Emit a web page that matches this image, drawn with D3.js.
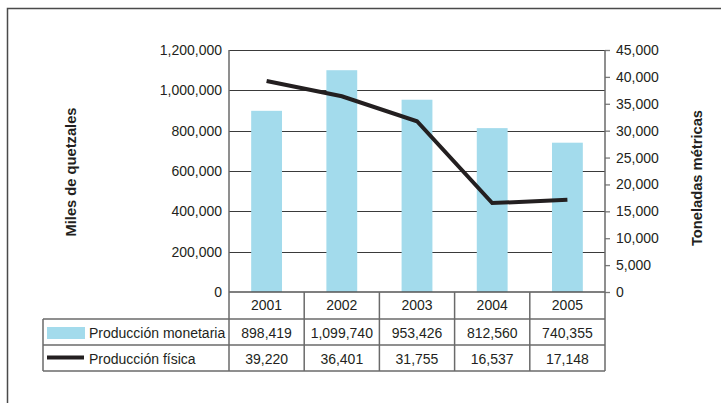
<!DOCTYPE html>
<html><head><meta charset="utf-8">
<script src="https://cdn.jsdelivr.net/npm/d3@7"></script>
<style>
html,body{margin:0;padding:0;background:#fff;}
svg{display:block;font-family:"Liberation Sans",Arial,sans-serif;}
</style></head>
<body>
<svg id="chart" width="721" height="403"></svg>
<script>
const years = ["2001", "2002", "2003", "2004", "2005"];
const monetaria = [898419, 1099740, 953426, 812560, 740355];
const fisica = [39220, 36401, 31755, 16537, 17148];
const leftTicks = [0, 200000, 400000, 600000, 800000, 1000000, 1200000];
const rightTicks = [0, 5000, 10000, 15000, 20000, 25000, 30000, 35000, 40000, 45000];
const seriesNames = ["Producción monetaria", "Producción física"];
const leftTitle = "Miles de quetzales";
const rightTitle = "Toneladas métricas";

const barColor = "#a3dbec";
const lineColor = "#231f20";
const textColor = "#231f20";
const gridColor = "#3a3a3a";
const axisGray = "#7a7a7a";

const svg = d3.select("#chart");
const fmt = d3.format(",");

const L = 229, R = 605, T = 50, B = 292;
const rowB = [292, 319, 345, 371];
const tableLeft = 43;

// outer frame
svg.append("rect").attr("x", 7.5).attr("y", 8.5).attr("width", 800).attr("height", 500)
  .attr("fill", "none").attr("stroke", "#4a4a4a").attr("stroke-width", 1.5);

const x = d3.scaleBand().domain(years).range([L, R]).padding(0);
const bw = x.bandwidth();
const yL = d3.scaleLinear().domain([0, 1200000]).range([B, T]);
const yR = d3.scaleLinear().domain([0, 45000]).range([B, T]);

// gridlines
svg.append("g").selectAll("line").data(leftTicks.filter(d => d > 0)).join("line")
  .attr("x1", L).attr("x2", R)
  .attr("y1", d => Math.round(yL(d)) + 0.5).attr("y2", d => Math.round(yL(d)) + 0.5)
  .attr("stroke", gridColor).attr("stroke-width", 1);

// bars
svg.append("g").selectAll("rect").data(years).join("rect")
  .attr("x", d => x(d) + bw * 0.295)
  .attr("width", bw * 0.41)
  .attr("y", (d, i) => yL(monetaria[i]))
  .attr("height", (d, i) => B - yL(monetaria[i]))
  .attr("fill", barColor);

// left axis labels
const axL = svg.append("g").attr("transform", `translate(${L},0)`)
  .call(d3.axisLeft(yL).tickValues(leftTicks).tickFormat(fmt).tickSize(0).tickPadding(7));
axL.select(".domain").remove();
axL.selectAll("text").attr("font-size", 14).attr("fill", textColor)
  .attr("font-family", "Liberation Sans, Arial, sans-serif");

// right axis
const axR = svg.append("g").attr("transform", `translate(${R},0)`)
  .call(d3.axisRight(yR).tickValues(rightTicks).tickFormat(fmt).tickSize(5).tickPadding(6));
axR.select(".domain").remove();
axR.selectAll("line").attr("stroke", axisGray).attr("stroke-width", 1.3);
axR.selectAll("text").attr("font-size", 14).attr("fill", textColor)
  .attr("font-family", "Liberation Sans, Arial, sans-serif");

// zero line
svg.append("line").attr("x1", L).attr("x2", R).attr("y1", B).attr("y2", B)
  .attr("stroke", "#555").attr("stroke-width", 1.5);

// line series
const line = d3.line().x((d, i) => x(years[i]) + bw / 2).y(d => yR(d));
svg.append("path").datum(fisica).attr("d", line)
  .attr("fill", "none").attr("stroke", lineColor).attr("stroke-width", 4)
  .attr("stroke-linejoin", "miter");

// table lines
const tg = svg.append("g").attr("stroke", "#6a6a6a").attr("stroke-width", 1.5);
[rowB[1], rowB[2], rowB[3]].forEach(yv => {
  tg.append("line").attr("x1", tableLeft).attr("x2", R).attr("y1", yv).attr("y2", yv);
});
tg.append("line").attr("x1", tableLeft).attr("x2", tableLeft).attr("y1", rowB[1]).attr("y2", rowB[3]);
years.forEach((d, i) => {
  tg.append("line").attr("x1", x(d)).attr("x2", x(d)).attr("y1", i === 0 ? T : rowB[0]).attr("y2", rowB[3]);
});
tg.append("line").attr("x1", R).attr("x2", R).attr("y1", T).attr("y2", rowB[3]);

// table text
const tt = svg.append("g").attr("font-size", 14).attr("fill", textColor).attr("text-anchor", "middle");
years.forEach((d, i) => {
  tt.append("text").attr("x", x(d) + bw / 2).attr("y", 310).text(d);
  tt.append("text").attr("x", x(d) + bw / 2).attr("y", 337.5).text(fmt(monetaria[i]));
  tt.append("text").attr("x", x(d) + bw / 2).attr("y", 363.5).text(fmt(fisica[i]));
});

// legend keys
svg.append("rect").attr("x", 47).attr("y", 327).attr("width", 38).attr("height", 12).attr("fill", barColor);
svg.append("line").attr("x1", 47).attr("x2", 84).attr("y1", 357.5).attr("y2", 357.5)
  .attr("stroke", lineColor).attr("stroke-width", 4);
svg.append("text").attr("x", 89).attr("y", 337.5).attr("font-size", 14).attr("fill", textColor).text(seriesNames[0]);
svg.append("text").attr("x", 89).attr("y", 363.5).attr("font-size", 14).attr("fill", textColor).text(seriesNames[1]);

// axis titles
svg.append("text").attr("transform", "translate(76,172) rotate(-90)")
  .attr("text-anchor", "middle").attr("font-size", 14.7).attr("font-weight", "bold")
  .attr("fill", textColor).text(leftTitle);
svg.append("text").attr("transform", "translate(702,178) rotate(-90)")
  .attr("text-anchor", "middle").attr("font-size", 14.7).attr("font-weight", "bold")
  .attr("fill", textColor).text(rightTitle);
</script>
</body></html>
